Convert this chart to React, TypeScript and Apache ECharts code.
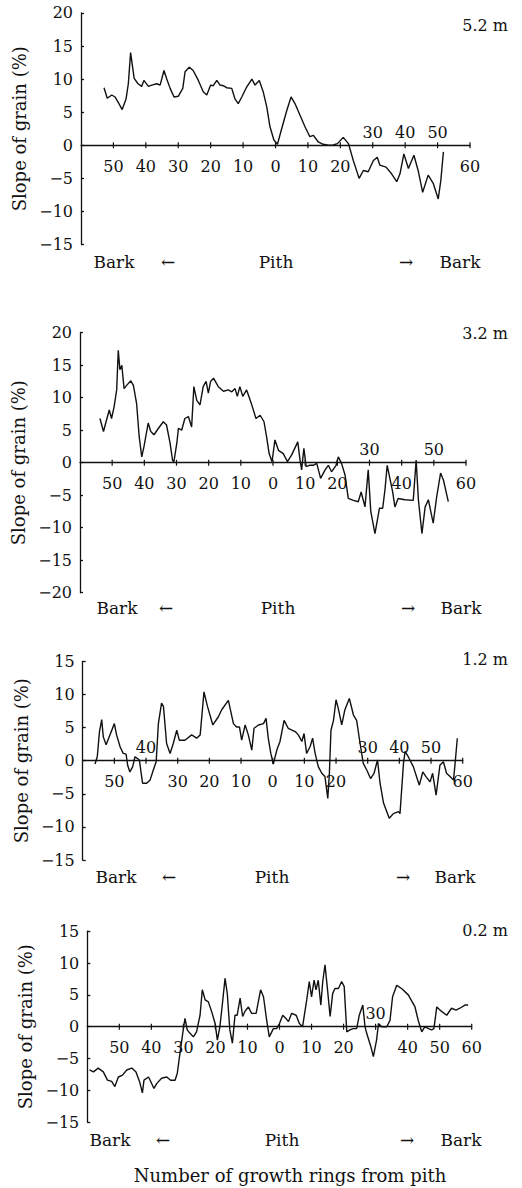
import React, { useEffect, useRef } from "react";
import * as echarts from "echarts";

// ---------- texts ----------
const HEIGHTS = ["5.2 m", "3.2 m", "1.2 m", "0.2 m"];
const Y_NAME = "Slope of grain (%)";
const X_TITLE = "Number of growth rings from pith";
const DIR_LABELS = ["Bark", "←", "Pith", "→", "Bark"];

// ---------- axes ----------
const X_MIN = -60;
const X_MAX = 60;
const Y_MIN = [-15, -20, -15, -15];
const Y_MAX = [20, 20, 15, 15];
const Y_INTERVAL = 5;
// ring positions (left of pith negative), labelled below / above the zero line
const TICKS_BELOW = [
  [-50, -40, -30, -20, -10, 0, 10, 20, 60],
  [-50, -40, -30, -20, -10, 0, 10, 20, 40, 60],
  [-50, -30, -20, -10, 0, 10, 20, 60],
  [-50, -40, -30, -20, -10, 0, 10, 20, 40, 50, 60],
];
const TICKS_ABOVE = [[30, 40, 50], [30, 50], [-40, 30, 40, 50], [30]];

// ---------- data: [ring position, slope of grain %] ----------
const SLOPE_5_2M = [
  [-52.9, 8.7], [-51.9, 7.1], [-50.5, 7.6], [-49.5, 7.3], [-48.3, 6.3], [-47.3, 5.4], [-46.1, 7.0], [-45.4, 9.3],
  [-44.7, 14.0], [-43.6, 10.1], [-42.4, 9.3], [-41.3, 8.9], [-40.6, 9.8], [-39.2, 8.9], [-38.2, 9.1], [-36.6, 9.3],
  [-35.6, 9.1], [-34.4, 11.3], [-33.6, 10.1], [-32.5, 8.6], [-31.3, 7.3], [-30.0, 7.4], [-28.6, 8.6], [-27.9, 11.1],
  [-26.6, 11.8], [-25.4, 11.3], [-23.8, 9.8], [-22.3, 8.1], [-21.2, 7.6], [-20.0, 9.1], [-19.2, 9.0], [-18.1, 9.8],
  [-17.1, 9.1], [-16.1, 9.0], [-15.1, 8.7], [-13.5, 8.6], [-12.5, 7.0], [-11.5, 6.3], [-10.4, 7.3], [-8.9, 8.8],
  [-7.3, 10.0], [-6.3, 9.1], [-5.0, 9.8], [-3.8, 8.1], [-2.7, 5.8], [-1.7, 2.8], [-0.5, 0.8], [0.6, 0.15],
  [1.9, 2.5], [3.5, 5.3], [4.8, 7.3], [6.0, 6.3], [7.6, 4.5], [9.1, 2.8], [10.6, 1.3], [11.7, 1.5], [13.2, 0.5],
  [14.7, 0.15], [16.3, 0], [17.8, 0.05], [19.1, 0.25], [20.9, 1.2], [22.5, 0.25], [24.0, -2.3], [25.8, -5.0],
  [27.1, -3.8], [28.6, -4.0], [30.2, -2.3], [31.4, -1.8], [32.2, -3.0], [34.1, -3.3], [35.8, -4.3], [37.4, -5.5],
  [38.4, -4.3], [39.6, -1.3], [41.0, -3.5], [42.7, -1.5], [44.0, -3.8], [45.4, -7.1], [47.1, -4.5], [48.7, -5.8],
  [50.2, -8.1], [51.0, -5.3], [51.8, -1.0],
];

const SLOPE_3_2M = [
  [-53.8, 6.8], [-52.7, 4.8], [-51.9, 6.3], [-50.9, 8.1], [-50.2, 6.8], [-49.4, 8.6], [-48.6, 11.2], [-48.1, 17.3],
  [-47.6, 14.3], [-47.0, 15.0], [-46.3, 11.4], [-45.5, 11.9], [-44.2, 12.6], [-43.4, 11.9], [-42.4, 9.1], [-41.6, 4.0],
  [-40.8, 0.9], [-40.1, 2.5], [-38.8, 6.1], [-38.0, 4.8], [-37.0, 4.3], [-35.6, 5.3], [-34.1, 6.3], [-33.1, 5.8],
  [-32.0, 3.0], [-31.2, 0.3], [-30.8, 0.15], [-29.9, 3.0], [-29.4, 5.3], [-28.4, 5.0], [-27.4, 6.8], [-26.3, 7.1],
  [-25.3, 5.5], [-24.6, 11.7], [-23.7, 9.6], [-22.7, 8.9], [-21.7, 11.7], [-20.8, 12.5], [-20.1, 10.7], [-19.4, 12.5],
  [-18.5, 13.0], [-17.0, 11.7], [-15.4, 11.0], [-13.9, 11.2], [-12.8, 10.9], [-11.8, 11.4], [-11.1, 10.2], [-10.3, 11.7],
  [-9.4, 10.2], [-8.2, 11.2], [-6.6, 8.9], [-5.3, 6.8], [-4.0, 7.3], [-2.8, 6.3], [-2.0, 4.0], [-1.2, 1.4],
  [-0.3, 0.15], [0.6, 3.5], [1.7, 1.9], [3.2, 1.4], [4.5, 0.15], [5.8, 1.2], [7.7, 3.2], [8.4, 0.4], [8.9, -1.1],
  [9.6, 2.2], [10.3, -0.6], [11.3, -0.4], [12.5, -0.4], [13.6, -0.1], [14.8, -2.4], [16.2, -1.1], [17.2, -0.4],
  [18.2, -1.4], [19.6, -0.4], [20.3, 0.9], [21.3, -0.1], [22.4, -1.9], [23.4, -5.5], [25.0, -5.8], [26.5, -6.0],
  [27.4, -4.5], [28.6, -6.8], [29.6, -1.1], [30.4, -7.5], [31.7, -10.9], [33.1, -7.0], [34.1, -7.0], [34.8, -4.2],
  [35.5, -0.4], [37.2, -4.5], [37.9, -6.8], [38.9, -5.5], [41.0, -5.7], [43.6, -5.8], [44.5, 0.4], [45.2, -5.7],
  [46.3, -10.9], [47.3, -6.8], [48.3, -5.7], [49.8, -9.3], [50.9, -5.2], [52.1, -1.6], [53.0, -2.7], [54.5, -6.0],
];

const SLOPE_1_2M = [
  [-56.1, -0.5], [-55.4, 0.6], [-54.7, 4.4], [-54.0, 6.2], [-53.5, 3.6], [-52.6, 2.4], [-51.4, 3.9], [-50.0, 5.6],
  [-49.3, 3.9], [-48.2, 2.1], [-47.2, 1.1], [-46.3, 1.0], [-45.8, -0.7], [-45.1, -1.7], [-44.2, -0.9], [-43.5, 0.6],
  [-42.9, 0.4], [-42.1, 0.1], [-41.1, -3.4], [-39.8, -3.4], [-38.7, -2.9], [-37.7, -1.4], [-36.8, -0.15], [-36.1, 5.6],
  [-35.1, 8.7], [-34.5, 8.2], [-33.5, 2.6], [-32.4, 1.1], [-31.4, 2.6], [-30.3, 4.6], [-29.5, 3.1], [-27.7, 3.1],
  [-25.6, 3.9], [-24.0, 3.4], [-22.9, 3.9], [-21.7, 10.4], [-20.6, 8.2], [-18.9, 5.4], [-17.2, 6.6], [-16.1, 7.7],
  [-14.0, 9.1], [-12.4, 5.6], [-11.4, 5.1], [-10.5, 5.1], [-9.8, 3.1], [-8.7, 5.4], [-7.7, 3.9], [-6.6, 1.6],
  [-5.9, 4.9], [-4.5, 5.4], [-2.9, 5.6], [-2.1, 6.4], [-1.4, 3.4], [-0.6, 1.1], [0.2, -0.5], [1.3, 1.6], [2.3, 2.9],
  [3.6, 6.1], [4.9, 4.9], [7.1, 4.4], [8.1, 3.9], [9.2, 2.9], [9.9, 4.1], [10.7, 1.1], [11.8, 2.1], [12.6, 3.4],
  [13.4, 1.1], [14.4, -0.9], [15.5, -1.9], [16.5, -2.4], [17.4, -5.7], [17.9, -1.9], [18.4, 4.6], [19.2, 6.1],
  [20.0, 9.2], [20.7, 7.9], [21.8, 5.4], [22.8, 7.7], [24.2, 9.4], [25.5, 6.9], [26.5, 6.1], [27.6, 2.6], [28.6, -0.4],
  [29.7, -1.4], [30.9, -2.7], [32.0, -1.9], [33.1, 0.1], [33.9, -3.4], [35.0, -6.4], [36.8, -8.7], [38.1, -8.0],
  [39.7, -7.7], [40.2, -8.0], [41.3, -0.4], [41.8, 1.4], [42.8, 0.6], [44.4, -0.9], [46.3, -3.7], [47.4, -1.7],
  [48.4, -2.4], [49.7, -3.2], [50.5, -1.9], [51.6, -5.2], [52.8, -0.7], [53.9, -0.15], [54.9, -1.9], [56.0, -2.4],
  [57.1, -2.9], [57.6, -0.4], [58.3, 3.4],
];

const SLOPE_0_2M = [
  [-59.3, -6.8], [-58.1, -7.1], [-56.6, -6.5], [-55.0, -7.1], [-53.7, -8.4], [-52.4, -8.6], [-51.4, -9.4], [-50.3, -7.9],
  [-49.0, -7.6], [-47.7, -6.8], [-46.1, -6.5], [-44.8, -7.1], [-43.7, -8.6], [-42.8, -10.4], [-42.3, -8.4], [-40.9, -7.9],
  [-40.2, -8.6], [-39.2, -9.7], [-38.3, -8.9], [-36.8, -8.1], [-35.2, -7.9], [-34.0, -8.4], [-32.6, -8.4], [-31.9, -7.3],
  [-31.3, -5.0], [-30.2, -1.0], [-29.5, 1.3], [-28.8, -0.5], [-28.0, -1.0], [-26.9, -1.6], [-25.9, -0.8], [-24.8, 1.8],
  [-24.1, 5.8], [-23.2, 4.2], [-22.2, 3.9], [-21.2, 2.4], [-20.1, 0.5], [-19.4, -2.1], [-18.6, 0], [-17.7, 4.2],
  [-17.0, 7.6], [-16.3, 5.2], [-15.5, -0.5], [-14.7, -2.6], [-13.9, 1.8], [-13.2, 1.8], [-12.3, 4.5], [-11.5, 1.6],
  [-10.8, 2.4], [-9.7, 3.1], [-8.7, 2.1], [-7.3, 2.1], [-5.9, 5.8], [-5.0, 4.7], [-4.0, 1.0], [-3.2, -1.6],
  [-1.9, -0.3], [-0.9, -0.3], [0, 0.5], [1.0, 1.8], [2.0, 1.3], [2.8, 0.8], [3.8, 2.1], [5.2, 1.8], [6.2, 0.5],
  [7.2, 0], [8.5, 4.2], [9.3, 7.1], [10.0, 4.7], [10.8, 7.3], [11.4, 5.8], [12.1, 7.3], [12.9, 3.4], [13.5, 7.1],
  [14.2, 9.7], [14.9, 6.3], [15.8, 1.6], [16.6, 5.2], [17.3, 6.0], [18.4, 6.0], [19.4, 7.1], [20.2, 6.3], [21.0, -0.8],
  [22.0, -0.5], [23.0, -0.3], [24.1, -0.3], [24.9, 1.8], [26.0, 3.4], [26.7, 0], [27.2, -1.0], [28.5, -3.1],
  [29.3, -4.7], [30.3, -2.1], [30.9, 0.5], [31.9, 0], [33.5, 0], [34.5, 1.0], [35.3, 4.7], [36.6, 6.5], [38.1, 6.0],
  [40.2, 5.0], [42.3, 3.1], [43.3, 1.0], [44.4, -0.8], [45.4, 0], [46.5, -0.3], [47.5, -0.5], [48.2, -0.3],
  [49.1, 3.1], [50.6, 2.4], [52.2, 1.8], [53.7, 2.9], [55.1, 2.6], [56.3, 2.9], [57.9, 3.4], [58.9, 3.4],
];

const PANEL_DATA = [SLOPE_5_2M, SLOPE_3_2M, SLOPE_1_2M, SLOPE_0_2M];

// ---------- layout (pixels) ----------
const LAYOUT = [
  { top: 12.9, height: 231.7, left: 81, right: 52, nameGap: 48, hY: 25, rowY: 262, xs: [114, 168, 276, 406, 460] },
  { top: 332.7, height: 260, left: 80, right: 56, nameGap: 46, hY: 333, rowY: 608, xs: [117, 166, 278, 408, 461] },
  { top: 661.4, height: 198.6, left: 82.7, right: 59.3, nameGap: 52, hY: 659, rowY: 877, xs: [116, 169, 272, 403, 455] },
  { top: 931.2, height: 191, left: 87.3, right: 50.3, nameGap: 49, hY: 930, rowY: 1140, xs: [110, 163, 282, 407, 461] },
];

const FONT = "DejaVu Serif";
const INK = "#111111";

export default function App() {
  const ref = useRef<HTMLDivElement>(null);
  useEffect(() => {
    if (!ref.current) return;
    const chart = echarts.init(ref.current, undefined, { renderer: "svg" });
    const grids: any[] = [];
    const xAxes: any[] = [];
    const yAxes: any[] = [];
    const series: any[] = [];
    const graphics: any[] = [];
    const fmtY = (v: number) => (v < 0 ? "\u2212" + Math.abs(v) : String(v));
    const line = { color: INK, width: 1.3 };
    const tickLabel = (p: any) => String(Math.abs(p.value[0]));
    LAYOUT.forEach((L, i) => {
      grids.push({ left: L.left, right: L.right, top: L.top, height: L.height, containLabel: false });
      xAxes.push({
        type: "value", gridIndex: i, min: X_MIN, max: X_MAX,
        axisLine: { show: true, onZero: true, lineStyle: line },
        axisTick: { show: false },
        axisLabel: { show: false },
        splitLine: { show: false },
      });
      yAxes.push({
        type: "value", gridIndex: i, min: Y_MIN[i], max: Y_MAX[i], interval: Y_INTERVAL,
        axisLine: { show: true, onZero: false, lineStyle: line },
        axisTick: { show: true, inside: true, length: 3, lineStyle: line },
        axisLabel: { formatter: fmtY, margin: 8, color: INK, fontFamily: FONT, fontSize: 16 },
        splitLine: { show: false },
        name: Y_NAME, nameLocation: "middle", nameGap: L.nameGap,
        nameTextStyle: { color: INK, fontFamily: FONT, fontSize: 18 },
      });
      series.push({
        type: "line", xAxisIndex: i, yAxisIndex: i, data: PANEL_DATA[i],
        showSymbol: false, symbol: "none", lineStyle: { color: INK, width: 1.4 }, silent: true, z: 3,
      });
      const labelBase = { show: true, formatter: tickLabel, color: INK, opacity: 1, fontFamily: FONT, fontSize: 16 };
      series.push({
        type: "scatter", xAxisIndex: i, yAxisIndex: i, silent: true, z: 4,
        data: TICKS_BELOW[i].map((v) => [v, 0]),
        symbol: "rect", symbolSize: [1.2, 6], itemStyle: { color: INK, opacity: 1 },
        label: { ...labelBase, position: "bottom", distance: 10 },
      });
      series.push({
        type: "scatter", xAxisIndex: i, yAxisIndex: i, silent: true, z: 4,
        data: TICKS_ABOVE[i].map((v) => [v, 0]),
        symbol: "rect", symbolSize: [1.2, 6], itemStyle: { color: INK, opacity: 1 },
        label: { ...labelBase, position: "top", distance: 2 },
      });
      graphics.push({
        type: "text", x: 508, y: L.hY,
        style: { text: HEIGHTS[i], fill: INK, fontFamily: FONT, fontSize: 16, align: "right", verticalAlign: "middle" },
      });
      DIR_LABELS.forEach((t, k) => {
        graphics.push({
          type: "text", x: L.xs[k], y: L.rowY,
          style: { text: t, fill: INK, fontFamily: FONT, fontSize: 17, align: "center", verticalAlign: "middle" },
        });
      });
    });
    graphics.push({
      type: "text", x: 290, y: 1175,
      style: { text: X_TITLE, fill: INK, fontFamily: FONT, fontSize: 18, align: "center", verticalAlign: "middle" },
    });
    chart.setOption({
      animation: false,
      backgroundColor: "#ffffff",
      grid: grids,
      xAxis: xAxes,
      yAxis: yAxes,
      series,
      graphic: graphics,
    });
    return () => chart.dispose();
  }, []);
  return <div ref={ref} style={{ position: "fixed", left: 0, top: 0, width: 522, height: 1188 }} />;
}
